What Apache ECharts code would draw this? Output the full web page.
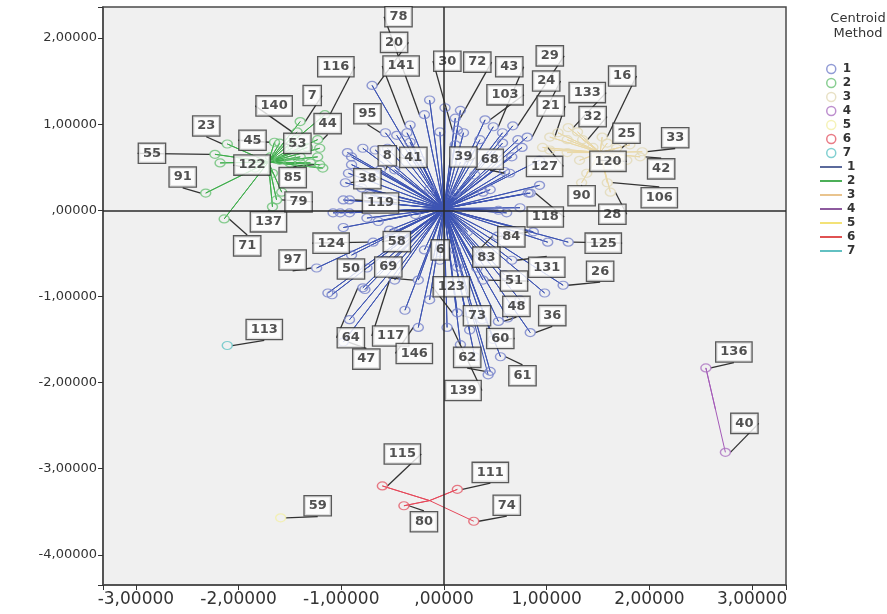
<!DOCTYPE html>
<html><head><meta charset="utf-8">
<script src="https://cdn.jsdelivr.net/npm/echarts@6/dist/echarts.min.js"></script>
<style>html,body{margin:0;padding:0;background:#fff}#c{width:887px;height:614px}</style>
</head><body><div id="c"></div>
<script>
// ---- tick labels ----
const xTicks = [-3,-2,-1,0,1,2,3];
const xTickLabels = ['-3,00000','-2,00000','-1,00000',',00000','1,00000','2,00000','3,00000'];
const yTicks = [-4,-3,-2,-1,0,1,2];
const yTickLabels = ['-4,00000','-3,00000','-2,00000','-1,00000',',00000','1,00000','2,00000'];

// ---- clusters (Centroid Method) ----
const clusterNames = ['1','2','3','4','5','6','7'];
const centroids = [[0.0,0.02],[-1.71,0.56],[1.52,0.67],[2.645,-2.32],[-1.59,-3.57],[-0.14,-3.37],[-2.11,-1.57]];

const cluster1 = [
[-0.70,1.45,'20'],[-0.19,1.11,'78'],[-0.33,0.99,'141'],[-0.57,0.90,'95'],[-0.46,0.87,''],[-0.36,0.90,''],
[-0.33,0.79,''],[-0.55,0.72,''],[-0.79,0.72,''],[-0.90,0.62,''],[-0.96,0.32,'38'],[-0.92,0.12,'119'],
[-0.04,0.91,''],[0.13,0.93,'30'],[0.11,1.07,'72'],[0.19,0.90,''],[0.40,1.05,'103'],[0.48,0.97,'43'],
[0.57,0.90,''],[0.67,0.98,'29'],[0.81,0.85,'24'],[0.72,0.82,''],[0.76,0.73,''],[0.66,0.62,''],
[0.64,0.43,'68'],[0.82,0.20,''],[0.57,0.78,''],[-0.94,0.67,''],[-0.93,0.43,''],[-1.08,-0.03,''],
[-1.01,-0.03,''],[-1.24,-0.67,'97'],[-1.13,-0.96,''],[-0.98,-1.53,'47'],[-0.79,-0.90,'64'],[-0.75,-0.67,'50'],
[-1.09,-0.98,''],[-0.48,-0.81,'117'],[-0.25,-0.81,'69'],[-0.25,-1.36,'146'],[0.03,-1.36,'139'],[0.13,-1.19,'123'],
[0.37,-1.27,'73'],[0.53,-1.29,'48'],[0.48,-1.50,'60'],[0.55,-1.70,'61'],[0.45,-1.87,'62'],[0.84,-1.42,'36'],
[0.38,-0.81,'51'],[0.66,-0.58,'131'],[1.16,-0.87,'26'],[1.21,-0.37,'125'],[1.01,-0.37,''],[0.87,-0.25,'84'],
[0.84,0.20,'118'],[0.52,-0.30,'83'],[0.11,-0.46,'6'],[-0.43,-0.34,'58'],[-0.69,-0.37,'124'],[-0.62,0.47,'8'],
[-0.23,0.58,'41'],[0.16,0.56,'39'],[-0.80,0.26,''],[-0.98,0.12,''],[-0.92,-0.03,''],[-0.75,-0.09,''],
[-0.48,-0.26,''],[0.38,0.21,''],[0.53,0.00,''],[0.11,0.20,''],[0.23,-0.25,''],[0.13,-0.66,''],
[0.32,-0.67,''],[0.59,0.45,''],[0.61,-0.03,''],[-0.14,1.28,''],[0.01,1.19,''],[0.16,1.16,''],
[-0.67,0.70,''],[-0.90,0.53,''],[-0.98,-0.20,''],[-0.90,-0.52,''],[-0.57,-0.58,''],[-0.38,-1.16,''],
[-0.14,-1.04,''],[0.25,-1.39,''],[0.16,-1.56,''],[0.62,-1.25,''],[0.74,-1.04,''],[0.98,-0.96,''],
[0.59,-0.75,''],[0.35,-0.52,''],[-0.04,-0.58,''],[-0.19,-0.46,''],[-0.28,-0.05,''],[-0.14,0.24,''],
[0.30,0.41,''],[0.45,0.24,''],[0.93,0.29,''],[0.93,0.58,''],[0.35,0.82,''],[0.11,0.76,''],
[-0.48,0.47,''],[-0.72,0.18,''],[-0.64,-0.13,''],[-0.53,-0.23,''],[0.74,0.03,''],[-0.77,-0.92,''],
[-0.92,-1.27,''],[0.30,-1.70,''],[0.43,-1.91,'']
];
const cluster2 = [
[-2.11,0.77,'23'],[-2.23,0.65,'55'],[-2.18,0.55,''],[-2.32,0.20,'91'],[-2.14,-0.10,'71'],[-1.67,0.04,'137'],
[-1.63,0.12,'79'],[-1.58,0.21,''],[-1.67,0.43,''],[-1.84,0.49,'122'],[-1.65,0.79,'45'],[-1.40,1.03,'7'],
[-1.43,0.91,'140'],[-1.23,0.82,'44'],[-1.16,1.11,'116'],[-1.21,0.72,''],[-1.23,0.62,''],[-1.18,0.49,''],
[-1.21,0.53,'85'],[-1.30,0.55,''],[-1.40,0.55,''],[-1.50,0.55,''],[-1.60,0.58,''],[-1.40,0.62,''],
[-1.33,0.73,'53'],[-1.47,0.73,''],[-1.60,0.78,''],[-1.69,0.62,'']
];
const cluster3 = [
[0.96,0.73,'127'],[1.03,0.85,'21'],[1.11,0.90,''],[1.21,0.96,'133'],[1.30,0.91,''],[1.20,0.82,''],
[1.35,0.82,'32'],[1.45,0.73,''],[1.54,0.85,'16'],[1.59,0.78,''],[1.68,0.72,'25'],[1.81,0.76,''],
[1.93,0.68,'33'],[1.91,0.62,'42'],[1.78,0.58,''],[1.71,0.50,''],[1.59,0.32,'106'],[1.62,0.21,'28'],
[1.34,0.32,'90'],[1.39,0.43,''],[1.20,0.67,''],[1.03,0.70,''],[1.32,0.58,''],[1.47,0.58,'120']
];
const cluster4 = [[2.55,-1.83,'136'],[2.74,-2.81,'40']];
const cluster5 = [[-1.59,-3.57,'59']];
const cluster6 = [[-0.60,-3.20,'115'],[0.13,-3.24,'111'],[-0.39,-3.43,'80'],[0.29,-3.61,'74']];
const cluster7 = [[-2.11,-1.57,'113']];
const clusters = [cluster1,cluster2,cluster3,cluster4,cluster5,cluster6,cluster7];

// ---- styling / label placement (pixel offsets of case-label boxes) ----
const pointColors = ['#7682cb','#6cc277','#e2d9b6','#ad73c2','#f3efa6','#e35a68','#63c4c6'];
const lineColors  = ['#3d54b3','#3fae4c','#ead8a6','#a45ab8','#f4ec8c','#e6485a','#5ec3c9'];
const legendLineColors = ['#5b6a9c','#4caf58','#e9c48e','#8d5a9e','#f3e277','#e05252','#62c0c2'];
const labelOffsets = {
 '20':[22,-43],'78':[-26,-98],'141':[-9,-59],'95':[-18,-19],'38':[22,-4],'119':[31,3],'30':[-10,-69],
 '72':[22,-56],'103':[20,-25],'43':[16,-60],'29':[37,-70],'24':[19,-56],'68':[-20,-14],'97':[-24,-8],
 '47':[23,17],'64':[-12,50],'50':[-16,1],'117':[-4,56],'69':[-30,-13],'146':[-4,26],'139':[16,63],
 '123':[-6,-26],'73':[-5,-4],'48':[18,-15],'60':[7,-1],'61':[22,19],'62':[-23,-14],'36':[22,-17],
 '51':[31,1],'131':[35,7],'26':[37,-14],'125':[35,1],'84':[-22,5],'118':[15,24],'83':[-11,21],
 '6':[-15,0],'58':[-3,2],'124':[-42,1],'8':[7,-14],'41':[-7,-3],'39':[3,-5],
 '23':[-21,-18],'55':[-63,-1],'91':[-23,-16],'71':[23,27],'137':[-4,15],'79':[22,2],'122':[-3,-3],
 '45':[-22,-2],'7':[12,-26],'140':[-23,-26],'44':[10,-16],'85':[-27,13],'53':[-10,-4],'116':[11,-48],
 '127':[2,19],'21':[1,-31],'133':[19,-35],'32':[10,-23],'16':[20,-61],'25':[10,-15],'33':[33,-14],
 '42':[21,12],'106':[52,15],'28':[2,22],'90':[0,13],'120':[13,1],
 '136':[28,-16],'40':[19,-29],'59':[37,-12],'115':[20,-32],'111':[33,-17],'74':[33,-16],'80':[20,16],'113':[37,-16]
};
const ellipse = 'path://M0,1A1,1 0 1,1 2,1A1,1 0 1,1 0,1Z';
const fontFam = '"DejaVu Sans", Arial, sans-serif';

const series = [];
clusters.forEach((pts, k) => {
  const c = centroids[k];
  const star = [];
  pts.forEach(p => { star.push([c[0], c[1]]); star.push([p[0], p[1]]); });
  const ls = {
    name: 'L' + clusterNames[k], type: 'line', data: star, symbol: 'none', showSymbol: false,
    lineStyle: { color: lineColors[k], width: 1 }, z: 2, silent: true, animation: false
  };
  if (k === 0) {
    ls.markLine = {
      silent: true, symbol: 'none', label: { show: false }, animation: false,
      lineStyle: { color: '#2a2a2a', width: 1.5, type: 'solid' },
      data: [{ xAxis: 0 }, { yAxis: 0 }]
    };
  }
  series.push(ls);
});
clusters.forEach((pts, k) => {
  series.push({
    name: clusterNames[k], type: 'scatter', symbol: ellipse, symbolSize: [10, 8], z: 3,
    itemStyle: { color: 'rgba(255,255,255,0)', borderColor: pointColors[k], borderWidth: 1.3 },
    data: pts.map(p => ({ value: [p[0], p[1]], name: p[2], label: { show: !!p[2] } })),
    label: {
      show: false, position: 'inside', formatter: '{b}', fontFamily: fontFam, fontSize: 13, fontWeight: 'bold',
      color: '#262626', backgroundColor: '#ffffff', borderColor: '#333', borderWidth: 1.3,
      padding: [2, 4, 1, 4], lineHeight: 16
    },
    labelLine: { show: true, smooth: false, lineStyle: { color: '#333', width: 1.3 } },
    labelLayout: function (params) {
      const o = labelOffsets[params.text];
      return o ? { dx: o[0], dy: o[1] } : {};
    },
    emphasis: { disabled: true }, animation: false
  });
});

const fmt = (ticks, labels) => v => {
  const i = ticks.findIndex(t => Math.abs(t - v) < 1e-6);
  return i >= 0 ? labels[i] : '';
};

const chart = echarts.init(document.getElementById('c'), null, { renderer: 'canvas' });
chart.setOption({
  animation: false,
  backgroundColor: '#ffffff',
  graphic: [{
    type: 'text', x: 858, y: 11, silent: true,
    style: { text: 'Centroid\nMethod', textAlign: 'center', align: 'center', fill: '#333',
      font: '13px "DejaVu Sans", Arial, sans-serif', lineHeight: 15 }
  }],
  grid: { left: 103, right: 101, top: 7, bottom: 29, show: true, backgroundColor: '#f0f0f0', borderColor: '#4a4a4a', borderWidth: 1.5 },
  xAxis: {
    type: 'value', min: -3.32, max: 3.33,
    axisLine: { show: true, onZero: false, lineStyle: { color: '#4a4a4a', width: 1.5 } },
    axisTick: { show: true, length: 5, lineStyle: { color: '#333' } },
    splitLine: { show: false },
    axisLabel: { formatter: fmt(xTicks, xTickLabels), fontFamily: fontFam, fontSize: 17, color: '#333', margin: 6 }
  },
  yAxis: {
    type: 'value', min: -4.35, max: 2.36,
    axisLine: { show: true, onZero: false, lineStyle: { color: '#4a4a4a', width: 1.5 } },
    axisTick: { show: true, length: 5, lineStyle: { color: '#333' } },
    splitLine: { show: false },
    axisLabel: { formatter: fmt(yTicks, yTickLabels), fontFamily: fontFam, fontSize: 13, color: '#333', margin: 6 }
  },
  legend: [
    {
      orient: 'vertical', left: 821, top: 57, itemWidth: 13, itemHeight: 9, itemGap: 0, selectedMode: false,
      textStyle: { fontFamily: fontFam, fontSize: 12, fontWeight: 'bold', color: '#333', lineHeight: 14 },
      data: clusterNames.map((n, k) => ({ name: n, icon: ellipse,
        itemStyle: { color: 'rgba(255,255,255,0)', borderColor: pointColors[k], borderWidth: 1.5 } }))
    },
    {
      orient: 'vertical', left: 815, top: 155, itemWidth: 22, itemHeight: 2, itemGap: 0, selectedMode: false,
      formatter: n => n.replace('L', ''),
      textStyle: { fontFamily: fontFam, fontSize: 12, fontWeight: 'bold', color: '#333', lineHeight: 14 },
      data: clusterNames.map((n, k) => ({ name: 'L' + n, icon: 'rect', itemStyle: { color: legendLineColors[k] } }))
    }
  ],
  series: series
});
</script>
</body></html>
